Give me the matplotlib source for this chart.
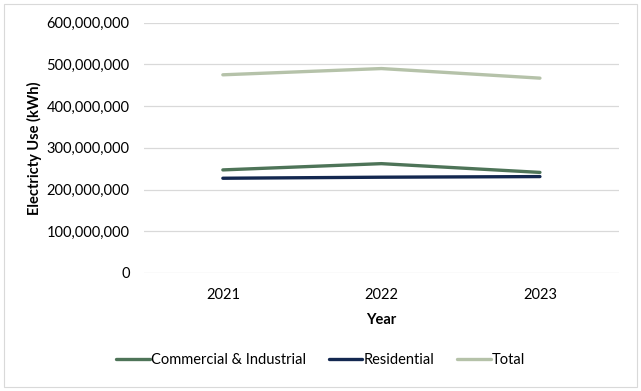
import matplotlib
matplotlib.use("Agg")
import matplotlib.pyplot as plt
from matplotlib.ticker import FuncFormatter
from matplotlib.patches import Rectangle

years = ["2021", "2022", "2023"]
commercial = [247e6, 262e6, 241e6]
residential = [227e6, 229.5e6, 231e6]
total = [475e6, 490e6, 467e6]

plt.rcParams['font.family'] = ['Lato', 'DejaVu Sans']

fig = plt.figure(figsize=(6.41, 3.91), dpi=100)
ax = fig.add_axes([0.224, 0.302, 0.742, 0.640])

x = list(range(len(years)))
ax.plot(x, commercial, color="#4E7458", lw=2.4, label="Commercial & Industrial", solid_capstyle="round")
ax.plot(x, residential, color="#132850", lw=2.4, label="Residential", solid_capstyle="round")
ax.plot(x, total, color="#B5C2A9", lw=2.4, label="Total", solid_capstyle="round")

ax.set_xlim(-0.5, 2.5)
ax.set_ylim(0, 600e6)
ax.set_yticks([i * 100e6 for i in range(7)])
ax.yaxis.set_major_formatter(FuncFormatter(lambda v, p: f"{int(v):,}"))
ax.set_xticks(x)
ax.set_xticklabels(years)
ax.grid(axis="y", color="#D9D9D9", lw=0.9)
ax.set_axisbelow(True)
for s in ax.spines.values():
    s.set_visible(False)
ax.tick_params(axis="both", length=0, labelsize=10.5, colors="#000000", pad=10)
ax.tick_params(axis="x", pad=11)
ax.set_xlabel("Year", fontsize=10.5, fontweight="bold", labelpad=8)
ax.set_ylabel("Electricty Use (kWh)", fontsize=10.5, fontweight="bold", labelpad=3)

fig.legend(loc="center", bbox_to_anchor=(0.5, 0.08), ncol=3, frameon=False,
           fontsize=10.5, handlelength=2.3, handletextpad=0.05, columnspacing=1.6)

fig.patches.append(Rectangle((0.006, 0.01), 0.988, 0.98, transform=fig.transFigure,
                             fill=False, edgecolor="#D9D9D9", lw=0.8))

fig.savefig("out.png", dpi=100)
